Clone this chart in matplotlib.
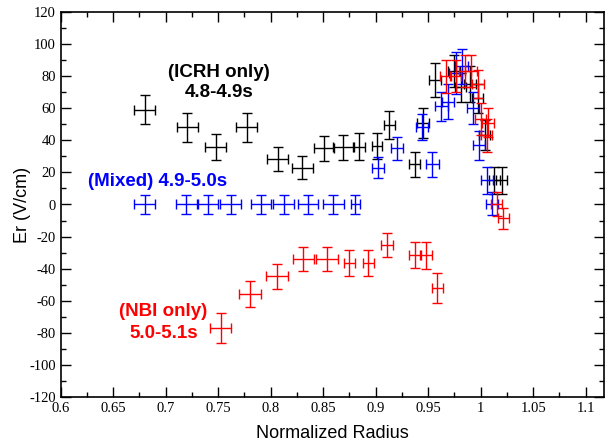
import matplotlib
matplotlib.use('Agg')
import matplotlib.pyplot as plt
from matplotlib.ticker import MultipleLocator

# -----------------------------------------------------------------------
# Er profiles
# ICRH only 4.8-4.9s (black)
icrh_x = [0.680, 0.7205, 0.7475, 0.777, 0.8065, 0.830, 0.8505, 0.869, 0.8845, 0.901,
          0.913, 0.9371, 0.945, 0.9563, 0.9745, 0.981, 0.9897, 0.997, 1.0037, 1.013, 1.020]
icrh_y = [59, 48, 36, 48, 28.5, 23, 35, 35.5, 36, 36.5,
          49.5, 25, 51, 77.5, 83, 73, 75, 66, 43, 15, 15]
icrh_xerr = [0.0098, 0.0102, 0.0102, 0.0102, 0.0098, 0.0098, 0.0096, 0.0094, 0.0056, 0.0048,
             0.0054, 0.0054, 0.0054, 0.0054, 0.0054, 0.0054, 0.0054, 0.0054, 0.0054, 0.0054, 0.0054]
icrh_yerr = [9.1, 8.8, 8.1, 8.9, 7.5, 7.4, 7.9, 8.0, 8.3, 8.3,
             8.8, 7.6, 9.3, 10.4, 10, 9, 11, 9, 9.3, 8.5, 8.5]

# Mixed 4.9-5.0s (blue)
mixed_x = [0.680, 0.7198, 0.7405, 0.7619, 0.7905, 0.8122, 0.8352, 0.8597, 0.8807,
           0.9021, 0.9206, 0.9442, 0.954, 0.9626, 0.969, 0.976, 0.9817, 0.993, 0.998, 1.0057, 1.0105]
mixed_y = [0, 0, 0, 0, 0, 0, 0, 0, 0,
           23, 35, 48, 25, 61, 64, 82, 86, 60, 37, 15, 0.5]
mixed_xerr = [0.0098, 0.0098, 0.0095, 0.0098, 0.0095, 0.0096, 0.0096, 0.0098, 0.0045,
              0.0058, 0.0058, 0.0058, 0.0058, 0.0058, 0.0058, 0.0058, 0.0058, 0.0058, 0.0058, 0.0058, 0.0058]
mixed_yerr = [6.2, 6.2, 6.2, 6.2, 6.2, 6.2, 6.2, 6.2, 6.2,
              6.8, 7, 8.1, 7.9, 8.8, 11, 13, 11, 10, 9, 8.5, 7.3]

# NBI only 5.0-5.1s (red)
nbi_x = [0.7523, 0.7803, 0.8058, 0.831, 0.8536, 0.875, 0.8931, 0.911, 0.937, 0.9483, 0.9588,
         0.9665, 0.976, 0.985, 0.9906, 0.9975, 1.0, 1.007, 1.0057, 1.0153, 1.0216]
nbi_y = [-77, -55.6, -44.8, -34, -34.2, -36.3, -36.5, -25, -31.3, -31.7, -51.8,
         79.7, 80, 83, 83, 75, 53, 51, 43, 0.5, -8.5]
nbi_xerr = [0.0102, 0.0105, 0.0103, 0.0102, 0.0102, 0.0054, 0.0053, 0.0055, 0.0055, 0.0055, 0.0053,
            0.0054, 0.0054, 0.0054, 0.0054, 0.0054, 0.0054, 0.0054, 0.0054, 0.0054, 0.0054]
nbi_yerr = [9.5, 8.1, 8, 7.5, 7.5, 8, 8, 7.5, 8.2, 8.2, 9.3,
            10, 10, 10, 10, 9, 10, 9, 10.4, 7.5, 6.5]

fig = plt.figure(figsize=(6.05, 4.44), dpi=100)
ax = fig.add_axes([60.7/605, 46.7/444, (604-60.7)/605, (397.3-11.7)/444])

def draw(x, y, xe, ye, col):
	ax.errorbar(x, y, xerr=xe, yerr=ye, fmt='none', ecolor=col,
		elinewidth=1.0, capsize=3.5, capthick=1.0)

draw(icrh_x, icrh_y, icrh_xerr, icrh_yerr, 'black')
draw(mixed_x, mixed_y, mixed_xerr, mixed_yerr, '#0000ff')
draw(nbi_x, nbi_y, nbi_xerr, nbi_yerr, '#ff0000')

ax.set_xlim(0.6, 1.1174)
ax.set_ylim(-120, 120)
ax.xaxis.set_major_locator(MultipleLocator(0.05))
ax.xaxis.set_minor_locator(MultipleLocator(0.025))
ax.yaxis.set_major_locator(MultipleLocator(20))
ax.yaxis.set_minor_locator(MultipleLocator(10))
ax.tick_params(which='both', direction='in', top=True, right=True, width=1.0)
ax.tick_params(which='major', length=7.5)
ax.tick_params(which='minor', length=3.8)
for s in ax.spines.values():
	s.set_linewidth(1.2)

ax.set_xticklabels(['%g' % v for v in ax.get_xticks()])
ax.set_yticklabels(['%g' % v for v in ax.get_yticks()])
for lab in ax.get_xticklabels() + ax.get_yticklabels():
	lab.set_fontfamily('Liberation Serif')
	lab.set_fontsize(10.5)

sans = 'Liberation Sans'
ax.set_xlabel('Normalized Radius', family=sans, fontsize=13, labelpad=7)
ax.set_ylabel('Er (V/cm)', family=sans, fontsize=13)
ax.yaxis.set_label_coords(-0.055, 0.5)

bold = dict(family=sans, fontsize=13.5, fontweight='bold', ha='center', va='center')
ax.text(0.7504, 82, '(ICRH only)', color='black', **bold)
ax.text(0.7504, 69.7, '4.8-4.9s', color='black', **bold)
ax.text(0.6925, 14.3, '(Mixed) 4.9-5.0s', color='#0000ff', **bold)
ax.text(0.6978, -66.6, '(NBI only)', color='#ff0000', **bold)
ax.text(0.698, -80.3, '5.0-5.1s', color='#ff0000', **bold)

fig.savefig('out.png', dpi=100)
